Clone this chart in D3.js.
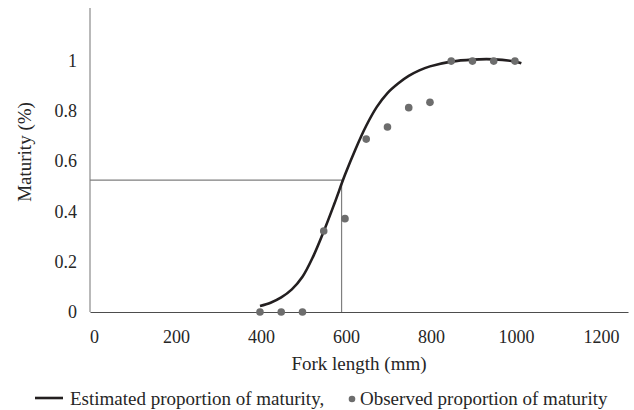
<!DOCTYPE html>
<html>
<head>
<meta charset="utf-8">
<script src="https://cdn.jsdelivr.net/npm/d3@7/dist/d3.min.js"></script>
<style>
  body { margin: 0; background: #fff; }
  svg { display: block; }
</style>
</head>
<body>
<svg id="chart" width="634" height="410"></svg>
<script>
// Observed proportion of maturity
const obsLength = [400, 450, 500, 550, 600, 650, 700, 750, 800, 850, 900, 950, 1000];
const obsMaturity = [0, 0, 0, 0.322, 0.371, 0.687, 0.735, 0.812, 0.833, 0.997, 0.997, 0.997, 0.997];

// Estimated proportion of maturity
const estLength = [400, 425, 450, 475, 500, 525, 550, 575, 600, 625, 650, 675, 700, 725, 750, 775, 800, 850, 900, 950, 1000, 1015];
const estMaturity = [0.024, 0.037, 0.058, 0.09, 0.14, 0.22, 0.32, 0.43, 0.545, 0.648, 0.74, 0.815, 0.87, 0.908, 0.938, 0.96, 0.976, 0.995, 1.003, 1.004, 0.995, 0.988];

// Length at 50% maturity reference lines
const refLength = 592;
const refMaturity = 0.524;

const xTicks = [0, 200, 400, 600, 800, 1000, 1200];
const yTicks = [0, 0.2, 0.4, 0.6, 0.8, 1];

const xTitle = "Fork length (mm)";
const yTitle = "Maturity (%)";
const legendEst = "Estimated proportion of maturity,";
const legendObs = "Observed proportion of maturity";

const FONT = "Liberation Serif, Tinos, DejaVu Serif, Times New Roman, Times, serif";

const svg = d3.select("#chart").attr("font-family", FONT);

const x = d3.scaleLinear().domain([0, 1266]).range([90, 628]);
const y = d3.scaleLinear().domain([0, 1.2]).range([312, 10]);

// Axes
const xAxis = svg.append("g").attr("transform", `translate(0,${y(0)})`)
  .call(d3.axisBottom(x).tickValues(xTicks).tickSize(0).tickPadding(18).tickFormat(d3.format("d")));
xAxis.attr("font-family", FONT).attr("font-size", 18);
xAxis.select(".domain").attr("stroke", "#4d4d4d").attr("stroke-width", 1.2);
xAxis.selectAll("text").attr("fill", "#262626")
  .attr("dx", d => d === 0 ? 4 : 1);

const yAxis = svg.append("g").attr("transform", `translate(${x(0)},0)`)
  .call(d3.axisLeft(y).tickValues(yTicks).tickSize(0).tickPadding(13).tickFormat(d => d3.format("")(d)));
yAxis.attr("font-family", FONT).attr("font-size", 18);
yAxis.select(".domain").attr("stroke", "#8a8a8a").attr("stroke-width", 1.2)
  .attr("d", `M0,${y(1.2) - 2}V${y(0)}`);
yAxis.selectAll("text").attr("fill", "#262626");

// Reference lines
svg.append("path")
  .attr("d", `M${x(0)},${y(refMaturity)}H${x(refLength)}V${y(0)}`)
  .attr("fill", "none").attr("stroke", "#7f7f7f").attr("stroke-width", 1.2);

// Estimated curve
const line = d3.line()
  .x((d, i) => x(estLength[i]))
  .y((d, i) => y(estMaturity[i]))
  .curve(d3.curveCatmullRom.alpha(0.5));
svg.append("path")
  .attr("d", line(estLength))
  .attr("fill", "none").attr("stroke", "#231f20").attr("stroke-width", 2.6);

// Observed points
svg.append("g").selectAll("circle").data(obsLength).join("circle")
  .attr("cx", (d) => x(d))
  .attr("cy", (d, i) => y(obsMaturity[i]))
  .attr("r", 3.8)
  .attr("fill", "#6d6d6d");

// Axis titles
svg.append("text").attr("x", 359).attr("y", 370).attr("text-anchor", "middle")
  .attr("font-size", 19).attr("fill", "#262626").text(xTitle);
svg.append("text").attr("transform", "translate(31,152) rotate(-90)").attr("text-anchor", "middle")
  .attr("font-size", 19).attr("fill", "#262626").text(yTitle);

// Legend
svg.append("line").attr("x1", 35).attr("x2", 63).attr("y1", 398).attr("y2", 398)
  .attr("stroke", "#231f20").attr("stroke-width", 2.6);
svg.append("text").attr("x", 70).attr("y", 405)
  .attr("font-size", 19).attr("fill", "#262626").text(legendEst);
svg.append("circle").attr("cx", 352).attr("cy", 399).attr("r", 3.3).attr("fill", "#6d6d6d");
svg.append("text").attr("x", 360).attr("y", 405)
  .attr("font-size", 19).attr("fill", "#262626").text(legendObs);
</script>
</body>
</html>
